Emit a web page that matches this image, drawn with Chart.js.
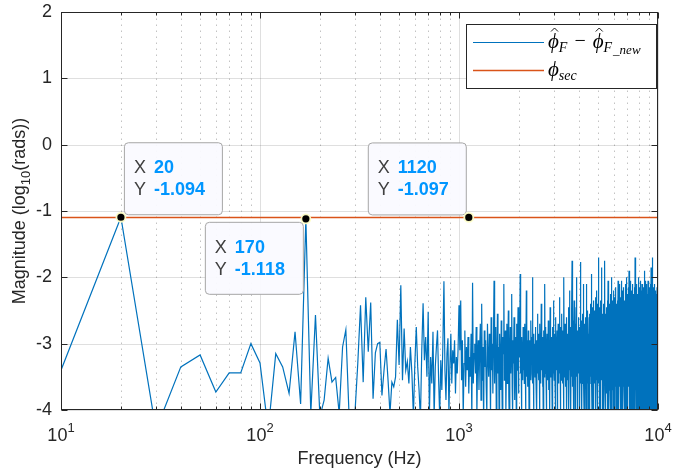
<!DOCTYPE html>
<html>
<head>
<meta charset="utf-8">
<script src="https://cdn.jsdelivr.net/npm/chart.js@4.4.1/dist/chart.umd.min.js"></script>
<style>
  html, body { margin: 0; padding: 0; background: #fff; }
  #wrap { width: 683px; height: 470px; position: relative; }
</style>
</head>
<body>
<div id="wrap"><canvas id="plot"></canvas></div>
<script>
// spectrum bins are 10 Hz apart, first bin at 10 Hz
const binStep = 10;

// log10 magnitude of the difference, 10 .. 500 Hz
const magLow = [
  -3.40, -1.094, -4.30, -3.35, -3.17, -3.73, -3.44, -3.44, -3.00, -3.29,
  -4.30, -3.15, -3.35, -3.75, -2.82, -3.91, -1.118, -4.05, -2.57, -4.10,
  -3.85, -3.22, -3.58, -3.51, -4.05, -3.05, -2.79, -4.05, -4.20, -4.05,
  -3.30, -2.42, -3.58, -2.30, -3.12, -2.38, -3.83, -3.14, -3.00, -2.98,
  -3.78, -3.40, -3.08, -3.55, -4.05, -3.58, -3.65, -3.50, -2.64, -3.32
];
// 510 .. 1000 Hz
const magMid = [
  -2.12, -3.55, -2.77, -3.40, -3.27, -3.60, -3.05, -3.45, -4.10, -3.30,
  -2.75, -3.35, -3.70, -4.15, -3.10, -2.39, -3.25, -2.90, -3.50, -2.52,
  -4.05, -3.20, -3.60, -2.82, -4.10, -3.35, -3.05, -2.80, -3.55, -4.10,
  -3.25, -3.70, -3.00, -2.06, -3.40, -3.85, -3.15, -2.92, -4.05, -3.35,
  -2.85, -3.60, -3.10, -3.30, -2.95, -3.75, -3.20, -3.45, -3.05, -2.42
];
// 1010 .. 2000 Hz
const magUpper = [
  -3.10, -2.35, -3.55, -2.95, -4.10, -3.30, -2.80, -3.65, -3.05, -3.40,
  -2.90, -3.75, -3.20, -3.50, -2.85, -4.15, -2.08, -3.60, -3.15, -3.00,
  -3.45, -2.75, -4.05, -3.25, -2.95, -3.70, -3.10, -2.70, -3.85, -2.40,
  -3.55, -3.05, -4.20, -2.80, -3.35, -2.95, -3.65, -4.05, -2.70, -3.20,
  -3.50, -2.85, -3.15, -4.10, -2.60, -3.40, -3.00, -3.75, -2.90, -2.05,
  -3.60, -3.10, -2.75, -4.15, -3.30, -2.55, -3.45, -3.05, -4.05, -2.85,
  -3.25, -3.70, -2.65, -3.40, -4.10, -2.90, -3.15, -2.10, -3.55, -3.00,
  -2.80, -4.05, -3.35, -2.70, -3.60, -3.05, -2.50, -3.80, -4.20, -3.10,
  -2.75, -3.45, -3.00, -2.25, -3.65, -4.10, -2.95, -3.30, -2.60, -3.50,
  -3.85, -2.90, -3.20, -4.05, -2.70, -3.40, -3.05, -2.45, -3.75, -3.15
];
// 2010 .. 4500 Hz
const magHigh = [
  -3.20, -2.85, -1.95, -3.45, -3.05, -4.10, -2.90, -3.30, -3.55, -2.75,
  -3.40, -3.00, -3.60, -2.70, -3.15, -4.05, -3.35, -2.20, -3.50, -2.95,
  -3.10, -3.65, -2.80, -3.25, -4.15, -2.95, -3.40, -3.05, -3.55, -2.65,
  -3.30, -2.90, -3.45, -2.00, -3.60, -3.15, -4.10, -2.85, -3.35, -3.00,
  -3.50, -2.75, -3.20, -3.65, -2.95, -4.05, -3.10, -2.55, -3.45, -3.25,
  -2.85, -3.55, -3.05, -4.20, -2.70, -3.35, -3.00, -3.60, -2.40, -3.15,
  -3.40, -2.90, -3.65, -3.10, -4.05, -2.80, -3.30, -3.50, -2.95, -2.10,
  -3.45, -3.05, -2.75, -3.60, -4.10, -3.20, -2.85, -3.40, -3.00, -3.55,
  -2.65, -3.25, -3.70, -2.95, -3.15, -4.15, -2.45, -3.35, -3.05, -3.50,
  -2.90, -3.40, -3.10, -4.05, -2.75, -3.60, -3.00, -2.35, -3.45, -3.20,
  -3.55, -2.85, -3.30, -3.65, -2.60, -4.10, -3.15, -2.95, -3.40, -3.05,
  -2.80, -3.50, -4.05, -3.10, -2.70, -3.35, -3.60, -2.90, -3.25, -2.30,
  -3.45, -3.05, -2.75, -4.20, -3.30, -3.55, -2.85, -3.15, -2.55, -3.40,
  -3.00, -3.60, -2.80, -3.25, -4.10, -2.95, -2.00, -3.50, -3.10, -3.35,
  -2.70, -3.45, -3.15, -3.65, -2.90, -4.05, -3.20, -2.60, -3.40, -3.00,
  -3.55, -2.85, -3.30, -2.45, -3.70, -3.05, -4.15, -2.95, -3.25, -2.20,
  -3.40, -3.00, -3.60, -2.75, -4.10, -3.15, -2.90, -3.50, -2.50, -1.75,
  -3.35, -3.65, -2.80, -3.10, -4.05, -2.65, -3.45, -3.00, -2.35, -3.55,
  -3.20, -2.90, -4.20, -3.40, -2.70, -3.60, -3.05, -2.45, -3.30, -2.00,
  -3.50, -3.15, -2.80, -3.65, -4.10, -2.95, -3.25, -2.60, -3.45, -3.05,
  -2.75, -3.55, -3.10, -4.05, -2.85, -3.35, -1.77, -3.60, -3.00, -2.90,
  -3.40, -2.65, -3.70, -3.20, -4.15, -2.95, -3.45, -2.55, -3.15, -3.60,
  -2.10, -3.30, -2.85, -3.55, -4.05, -3.05, -2.70, -3.40, -3.15, -2.90,
  -3.65, -3.00, -2.60, -3.35, -4.10, -2.80, -3.50, -2.10, -3.20, -3.45,
  -2.75, -3.60, -3.05, -2.50, -4.05, -3.30, -2.85, -3.55, -2.95, -3.25
];
// 4510 .. 10000 Hz
const magTop = [
  -2.60, -3.65, -3.00, -4.10, -2.55, -3.35, -2.80, -3.50, -3.10, -2.40,
  -3.60, -2.75, -3.25, -1.95, -3.55, -4.05, -2.70, -3.40, -2.90, -3.15,
  -2.45, -3.70, -3.05, -2.35, -4.15, -3.30, -2.65, -3.50, -2.85, -3.20,
  -3.60, -2.50, -3.15, -3.75, -2.30, -4.05, -3.40, -2.70, -3.00, -3.55,
  -2.55, -3.30, -2.20, -3.65, -3.05, -4.10, -2.75, -3.45, -2.40, -3.15,
  -3.60, -2.65, -3.25, -1.70, -3.50, -2.90, -4.05, -3.35, -2.45, -3.70,
  -2.80, -3.40, -2.35, -3.60, -4.15, -3.00, -2.60, -3.45, -3.10, -2.50,
  -1.85, -3.55, -3.05, -2.70, -3.75, -4.10, -2.55, -3.30, -2.95, -3.60,
  -2.40, -3.25, -3.65, -2.75, -4.05, -3.10, -2.30, -3.50, -2.85, -3.40,
  -1.75, -3.70, -2.90, -3.35, -2.55, -4.10, -3.15, -2.65, -3.60, -3.00,
  -2.45, -3.50, -2.80, -3.75, -3.05, -4.05, -2.35, -3.40, -2.70, -3.25,
  -2.05, -3.60, -3.10, -2.60, -4.15, -3.35, -2.50, -3.70, -2.85, -3.20,
  -2.40, -3.55, -2.95, -3.75, -2.25, -4.10, -3.30, -2.70, -3.45, -3.00,
  -2.55, -3.65, -2.00, -3.40, -3.05, -4.05, -2.75, -3.55, -2.35, -3.20,
  -3.70, -2.60, -3.35, -2.85, -4.10, -3.15, -2.20, -3.60, -2.90, -3.45,
  -2.45, -3.75, -3.00, -2.65, -3.50, -4.15, -2.30, -3.25, -3.60, -2.75,
  -3.40, -2.15, -3.65, -3.05, -2.55, -4.05, -3.35, -2.80, -3.70, -2.40,
  -3.20, -3.55, -2.60, -3.75, -4.10, -2.35, -3.45, -2.90, -3.10, -2.05,
  -3.60, -2.70, -3.30, -2.45, -3.75, -4.05, -2.85, -3.50, -2.25, -3.15,
  -3.65, -2.50, -3.40, -2.10, -3.05, -4.15, -2.75, -3.55, -2.95, -3.70,
  -2.30, -3.45, -2.85, -3.60, -4.10, -2.60, -3.25, -2.05, -3.70, -3.00,
  -2.55, -3.50, -2.20, -3.75, -3.15, -4.05, -2.70, -3.40, -2.40, -3.65,
  -3.05, -2.15, -3.55, -2.80, -3.70, -4.10, -2.50, -3.35, -2.95, -3.60,
  -2.35, -3.45, -2.65, -3.75, -3.10, -4.15, -2.10, -3.50, -2.85, -3.30,
  -3.65, -2.45, -3.20, -2.00, -3.55, -4.05, -2.75, -3.70, -2.55, -3.40,
  -2.25, -3.60, -3.00, -2.70, -3.75, -4.10, -2.40, -3.30, -2.90, -3.55,
  -2.15, -3.65, -2.60, -3.45, -1.90, -3.70, -4.05, -2.85, -3.35, -2.50,
  -3.60, -2.30, -3.50, -2.05, -3.75, -3.10, -4.15, -2.65, -3.40, -2.45,
  -3.70, -2.80, -3.25, -2.20, -3.60, -4.05, -2.55, -3.45, -2.95, -3.65,
  -2.35, -3.55, -2.70, -3.75, -2.10, -4.10, -3.30, -2.60, -3.50, -2.90,
  -3.65, -2.25, -3.40, -2.75, -3.70, -4.05, -2.45, -3.60, -2.15, -3.20,
  -3.55, -2.60, -3.75, -2.30, -3.45, -4.10, -1.70, -3.60, -2.85, -3.35,
  -2.50, -3.70, -2.20, -3.50, -3.05, -4.15, -2.65, -3.65, -2.40, -3.25,
  -3.60, -2.10, -3.45, -2.80, -3.75, -4.05, -2.35, -3.55, -2.70, -3.30,
  -2.25, -3.70, -2.95, -3.50, -2.45, -4.10, -3.20, -2.60, -3.65, -2.00,
  -3.40, -2.75, -3.60, -2.30, -3.75, -4.05, -2.55, -3.35, -2.15, -3.55,
  -2.85, -3.70, -2.40, -3.45, -2.05, -4.10, -3.25, -2.65, -3.60, -2.35,
  -3.50, -2.20, -3.75, -2.90, -3.40, -4.15, -2.45, -3.65, -2.70, -3.30,
  -2.10, -3.60, -2.55, -3.70, -3.00, -4.05, -2.35, -3.50, -2.80, -3.65,
  -2.25, -3.45, -2.70, -3.75, -2.40, -4.10, -3.15, -2.60, -3.55, -2.15,
  -3.70, -2.50, -3.35, -1.90, -3.65, -4.05, -2.75, -3.50, -2.30, -3.40,
  -2.65, -3.75, -2.05, -3.55, -3.10, -4.15, -2.45, -3.60, -2.80, -3.30,
  -2.20, -3.70, -2.60, -3.45, -2.35, -4.05, -3.20, -2.75, -3.65, -2.10,
  -3.55, -2.40, -3.75, -2.85, -3.50, -4.10, -2.25, -3.35, -2.65, -3.60,
  -2.05, -3.70, -2.55, -3.40, -2.90, -4.05, -2.35, -3.65, -2.75, -3.25,
  -2.30, -3.60, -2.70, -3.75, -2.15, -4.10, -3.30, -2.50, -3.55, -2.85,
  -3.70, -2.25, -3.45, -2.60, -3.65, -4.15, -2.40, -3.50, -2.10, -3.35,
  -2.75, -3.60, -1.85, -3.40, -2.95, -4.05, -2.30, -3.70, -2.55, -3.25,
  -3.65, -2.45, -3.50, -1.70, -3.55, -4.10, -2.80, -3.35, -2.20, -3.75,
  -2.60, -3.45, -2.35, -3.70, -3.05, -4.05, -2.50, -3.60, -2.15, -3.40,
  -3.55, -2.70, -3.75, -2.25, -3.45, -4.10, -2.45, -3.65, -2.85, -3.30,
  -2.35, -3.70, -2.55, -3.50, -2.10, -4.15, -3.20, -2.75, -3.60, -2.40,
  -3.45, -2.20, -3.75, -2.65, -3.55, -4.05, -2.30, -3.40, -2.90, -3.70,
  -2.50, -3.60, -2.25, -3.45, -2.80, -4.10, -2.40, -3.65, -2.15, -3.35,
  -3.70, -2.55, -3.50, -2.35, -3.60, -4.05, -2.70, -3.45, -2.20, -3.55
];

// phi_sec threshold level (log10 rads)
const secLevel = -1.097;

const xTickPowers = [1, 2, 3, 4];
const yTickValues = [2, 1, 0, -1, -2, -3, -4];

// data cursors: frequency, which series, and which side the box sits on
const dataTips = [
  { freq: 20, series: 'diff', place: 'ne' },
  { freq: 170, series: 'diff', place: 'sw' },
  { freq: 1120, series: 'sec', place: 'nw' }
];

const magnitude = [...magLow, ...magMid, ...magUpper, ...magHigh, ...magTop];
const freqs = magnitude.map((_, i) => (i + 1) * binStep);

const sansFont = '"Liberation Sans", Arial, Helvetica, sans-serif';
const mathFont = '"Liberation Serif", "DejaVu Serif", serif';
const ink = '#262626';
const blue = '#0072BD';
const orange = '#D95319';

function tipValue(tip) {
  if (tip.series === 'sec') return secLevel;
  return magnitude[freqs.indexOf(tip.freq)];
}

function roundedBox(ctx, x, y, w, h, r) {
  ctx.beginPath();
  ctx.moveTo(x + r, y);
  ctx.arcTo(x + w, y, x + w, y + h, r);
  ctx.arcTo(x + w, y + h, x, y + h, r);
  ctx.arcTo(x, y + h, x, y, r);
  ctx.arcTo(x, y, x + w, y, r);
  ctx.closePath();
}

function hat(ctx, cx, top) {
  ctx.beginPath();
  ctx.moveTo(cx - 3.5, top + 3.5);
  ctx.lineTo(cx, top);
  ctx.lineTo(cx + 3.5, top + 3.5);
  ctx.lineWidth = 0.9;
  ctx.strokeStyle = '#000';
  ctx.stroke();
}

const matlabAxes = {
  id: 'matlabAxes',
  beforeDatasetsDraw(chart) {
    const { ctx, chartArea: a, scales: { x, y } } = chart;
    ctx.save();
    // minor grid, dotted
    ctx.strokeStyle = 'rgba(38,38,38,0.28)';
    ctx.lineWidth = 1;
    ctx.setLineDash([1.5, 4.5]);
    for (let p = 1; p < 4; p++) {
      for (let k = 2; k <= 9; k++) {
        const px = Math.round(x.getPixelForValue(k * Math.pow(10, p))) + 0.5;
        ctx.beginPath(); ctx.moveTo(px, a.bottom); ctx.lineTo(px, a.top); ctx.stroke();
      }
    }
    // major grid
    ctx.setLineDash([]);
    ctx.strokeStyle = 'rgba(38,38,38,0.15)';
    xTickPowers.forEach(p => {
      const px = Math.round(x.getPixelForValue(Math.pow(10, p))) + 0.5;
      ctx.beginPath(); ctx.moveTo(px, a.bottom); ctx.lineTo(px, a.top); ctx.stroke();
    });
    yTickValues.forEach(v => {
      const py = Math.round(y.getPixelForValue(v)) + 0.5;
      ctx.beginPath(); ctx.moveTo(a.left, py); ctx.lineTo(a.right, py); ctx.stroke();
    });
    ctx.restore();
  },
  afterDatasetsDraw(chart) {
    const { ctx, chartArea: a, scales: { x, y } } = chart;
    ctx.save();

    // axes box and inward ticks on all four sides
    ctx.strokeStyle = ink;
    ctx.lineWidth = 1;
    const L = Math.round(a.left) + 0.5, R = Math.round(a.right) - 0.5;
    const T = Math.round(a.top) + 0.5, B = Math.round(a.bottom) - 0.5;
    ctx.strokeRect(L, T, R - L, B - T);
    ctx.beginPath();
    for (let p = 1; p <= 4; p++) {
      const px = Math.round(x.getPixelForValue(Math.pow(10, p))) + 0.5;
      ctx.moveTo(px, B); ctx.lineTo(px, B - 6);
      ctx.moveTo(px, T); ctx.lineTo(px, T + 6);
      if (p === 4) break;
      for (let k = 2; k <= 9; k++) {
        const mx = Math.round(x.getPixelForValue(k * Math.pow(10, p))) + 0.5;
        ctx.moveTo(mx, B); ctx.lineTo(mx, B - 3);
        ctx.moveTo(mx, T); ctx.lineTo(mx, T + 3);
      }
    }
    yTickValues.forEach(v => {
      const py = Math.round(y.getPixelForValue(v)) + 0.5;
      ctx.moveTo(L, py); ctx.lineTo(L + 6, py);
      ctx.moveTo(R, py); ctx.lineTo(R - 6, py);
    });
    ctx.stroke();

    // data cursor boxes
    dataTips.forEach(tip => {
      const val = tipValue(tip);
      const px = x.getPixelForValue(tip.freq);
      const py = y.getPixelForValue(val);
      const w = 98, h = 72, gap = 3;
      const bx = tip.place.includes('e') ? px + gap : px - gap - w;
      const by = tip.place.includes('n') ? py - gap - h : py + gap;
      roundedBox(ctx, bx + 0.5, by + 0.5, w, h, 4);
      ctx.fillStyle = 'rgba(250,250,255,0.96)';
      ctx.fill();
      ctx.strokeStyle = '#A6A6A6';
      ctx.lineWidth = 1;
      ctx.stroke();

      ctx.textBaseline = 'alphabetic';
      ctx.textAlign = 'left';
      ctx.font = `18px ${sansFont}`;
      ctx.fillStyle = '#404040';
      ctx.fillText('X', bx + 10, by + 31);
      ctx.fillText('Y', bx + 10, by + 53);
      ctx.font = `bold 18px ${sansFont}`;
      ctx.fillStyle = 'rgb(0,150,255)';
      ctx.fillText(String(tip.freq), bx + 30, by + 31);
      ctx.fillText(val.toFixed(3), bx + 30, by + 53);

      ctx.beginPath();
      ctx.arc(px, py, 4.5, 0, Math.PI * 2);
      ctx.fillStyle = '#000';
      ctx.fill();
      ctx.strokeStyle = 'rgba(255,255,200,0.95)';
      ctx.lineWidth = 1.8;
      ctx.stroke();
    });

    // legend
    const lx = 466.5, ly = 24.5, lw = 190, lh = 64;
    ctx.fillStyle = '#fff';
    ctx.fillRect(lx, ly, lw, lh);
    ctx.strokeStyle = ink;
    ctx.lineWidth = 1;
    ctx.strokeRect(lx, ly, lw, lh);

    ctx.lineWidth = 1.2;
    ctx.strokeStyle = blue;
    ctx.beginPath(); ctx.moveTo(473, 42.5); ctx.lineTo(544, 42.5); ctx.stroke();
    ctx.lineWidth = 1.6;
    ctx.strokeStyle = orange;
    ctx.beginPath(); ctx.moveTo(473, 70.5); ctx.lineTo(544, 70.5); ctx.stroke();

    ctx.fillStyle = '#000';
    ctx.textBaseline = 'alphabetic';
    let tx = 548, base = 48;
    ctx.font = `italic 21px ${mathFont}`;
    const phiW = ctx.measureText('ϕ').width;
    ctx.fillText('ϕ', tx, base);
    hat(ctx, tx + phiW * 0.6, base - 20);
    tx += phiW;
    ctx.font = `italic 14px ${mathFont}`;
    ctx.fillText('F', tx, base + 4);
    tx += ctx.measureText('F').width + 7;
    ctx.font = `20px ${mathFont}`;
    ctx.fillText('−', tx, base - 1);
    tx += ctx.measureText('−').width + 7;
    ctx.font = `italic 21px ${mathFont}`;
    ctx.fillText('ϕ', tx, base);
    hat(ctx, tx + phiW * 0.6, base - 20);
    tx += phiW;
    ctx.font = `italic 14px ${mathFont}`;
    ctx.fillText('F', tx, base + 4);
    tx += ctx.measureText('F').width + 1;
    ctx.font = `italic 13px ${mathFont}`;
    ctx.fillText('_new', tx, base + 6);

    tx = 548; base = 76;
    ctx.font = `italic 21px ${mathFont}`;
    ctx.fillText('ϕ', tx, base);
    tx += phiW;
    ctx.font = `italic 14px ${mathFont}`;
    ctx.fillText('sec', tx, base + 4);

    ctx.restore();
  },
  afterDraw(chart) {
    const { ctx, chartArea: a, scales: { x } } = chart;
    ctx.save();
    ctx.fillStyle = ink;
    ctx.textBaseline = 'alphabetic';
    ctx.textAlign = 'left';

    // decade labels 10^n
    xTickPowers.forEach(p => {
      const px = x.getPixelForValue(Math.pow(10, p));
      ctx.font = `18px ${sansFont}`;
      const wBase = ctx.measureText('10').width;
      ctx.font = `13px ${sansFont}`;
      const wExp = ctx.measureText(String(p)).width;
      const sx = px - (wBase + wExp) / 2;
      ctx.font = `18px ${sansFont}`;
      ctx.fillText('10', sx, 441);
      ctx.font = `13px ${sansFont}`;
      ctx.fillText(String(p), sx + wBase, 432);
    });

    // x title
    ctx.font = `18px ${sansFont}`;
    ctx.textAlign = 'center';
    ctx.fillText('Frequency (Hz)', (a.left + a.right) / 2, 464);

    // y title with subscript, rotated
    ctx.translate(25, (a.top + a.bottom) / 2);
    ctx.rotate(-Math.PI / 2);
    ctx.textAlign = 'left';
    const runs = [
      ['Magnitude (log', 18, 0],
      ['10', 13, 5],
      ['(rads))', 18, 0]
    ];
    let total = 0;
    runs.forEach(r => { ctx.font = `${r[1]}px ${sansFont}`; total += ctx.measureText(r[0]).width; });
    let cx = -total / 2;
    runs.forEach(r => {
      ctx.font = `${r[1]}px ${sansFont}`;
      ctx.fillText(r[0], cx, r[2]);
      cx += ctx.measureText(r[0]).width;
    });
    ctx.restore();
  }
};

new Chart(document.getElementById('plot'), {
  type: 'line',
  data: {
    datasets: [
      {
        label: 'phi_F - phi_F_new',
        data: freqs.map((f, i) => ({ x: f, y: magnitude[i] })),
        borderColor: blue,
        borderWidth: 1.2,
        pointRadius: 0,
        tension: 0,
        order: 1
      },
      {
        label: 'phi_sec',
        data: [{ x: freqs[0], y: secLevel }, { x: freqs[freqs.length - 1], y: secLevel }],
        borderColor: orange,
        borderWidth: 1.6,
        pointRadius: 0,
        order: 0
      }
    ]
  },
  options: {
    responsive: true,
    maintainAspectRatio: false,
    animation: false,
    layout: { padding: { top: 12, right: 25, left: 0, bottom: 0 } },
    plugins: {
      legend: { display: false },
      tooltip: { enabled: false }
    },
    scales: {
      x: {
        type: 'logarithmic',
        min: 10,
        max: 10000,
        grid: { display: false, drawTicks: false },
        border: { display: false },
        ticks: { display: false },
        afterFit: s => { s.height = 60; s.paddingLeft = 0; s.paddingRight = 0; }
      },
      y: {
        type: 'linear',
        min: -4,
        max: 2,
        grid: { display: false, drawTicks: false },
        border: { display: false },
        ticks: {
          stepSize: 1,
          color: ink,
          padding: 9,
          font: { family: sansFont, size: 18 }
        },
        afterFit: s => { s.width = 61; s.paddingTop = 0; s.paddingBottom = 0; }
      }
    }
  },
  plugins: [matlabAxes]
});
</script>
</body>
</html>
